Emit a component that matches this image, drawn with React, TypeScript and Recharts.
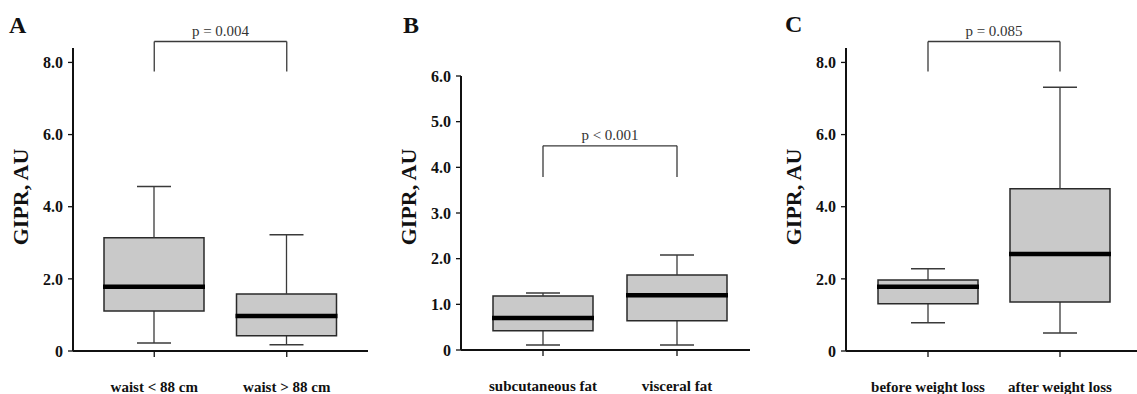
import React from "react";
import { ComposedChart, Bar, XAxis, YAxis, ReferenceLine } from "recharts";

const FONT = '"Liberation Serif", "Times New Roman", serif';

// Panel A: waist circumference
const catsA = ["waist < 88 cm", "waist > 88 cm"];
const minA = [0.22, 0.17];
const q1A = [1.11, 0.42];
const medA = [1.78, 0.97];
const q3A = [3.14, 1.58];
const maxA = [4.56, 3.22];
const ticksA = [0, 2, 4, 6, 8];

// Panel B: fat depot
const catsB = ["subcutaneous fat", "visceral fat"];
const minB = [0.11, 0.11];
const q1B = [0.42, 0.64];
const medB = [0.7, 1.2];
const q3B = [1.18, 1.64];
const maxB = [1.25, 2.08];
const ticksB = [0, 1, 2, 3, 4, 5, 6];

// Panel C: weight loss
const catsC = ["before weight loss", "after weight loss"];
const minC = [0.78, 0.5];
const q1C = [1.31, 1.36];
const medC = [1.78, 2.69];
const q3C = [1.97, 4.5];
const maxC = [2.28, 7.31];
const ticksC = [0, 2, 4, 6, 8];

const pTexts = ["p = 0.004", "p < 0.001", "p = 0.085"];

const toRows = (cats: string[], mins: number[], q1: number[], med: number[], q3: number[], max: number[]) =>
  cats.map((name, i) => ({
    name,
    base: mins[i],
    lowW: q1[i] - mins[i],
    lowBox: med[i] - q1[i],
    highBox: q3[i] - med[i],
    highW: max[i] - q3[i],
  }));

const WHISKER = "#3a3a3a";
const EDGE = "#2a2a2a";
const FILL = "#c9c9c9";

const Empty = () => null;

const LowWhisker = (props: any) => {
  const { x, y, width, height } = props;
  const cx = x + width / 2;
  const cap = width * 0.34;
  return (
    <g>
      <line x1={cx} x2={cx} y1={y} y2={y + height} stroke={WHISKER} strokeWidth={1.3} />
      <line x1={cx - cap / 2} x2={cx + cap / 2} y1={y + height} y2={y + height} stroke={WHISKER} strokeWidth={1.5} />
    </g>
  );
};

const HighWhisker = (props: any) => {
  const { x, y, width, height } = props;
  const cx = x + width / 2;
  const cap = width * 0.34;
  return (
    <g>
      <line x1={cx} x2={cx} y1={y} y2={y + height} stroke={WHISKER} strokeWidth={1.3} />
      <line x1={cx - cap / 2} x2={cx + cap / 2} y1={y} y2={y} stroke={WHISKER} strokeWidth={1.5} />
    </g>
  );
};

const LowBox = (props: any) => {
  const { x, y, width, height } = props;
  return (
    <g>
      <rect x={x} y={y} width={width} height={height} fill={FILL} />
      <path d={`M${x},${y} L${x},${y + height} L${x + width},${y + height} L${x + width},${y}`} fill="none" stroke={EDGE} strokeWidth={1.5} />
    </g>
  );
};

const HighBox = (props: any) => {
  const { x, y, width, height } = props;
  return (
    <g>
      <rect x={x} y={y} width={width} height={height} fill={FILL} />
      <path d={`M${x},${y + height} L${x},${y} L${x + width},${y} L${x + width},${y + height}`} fill="none" stroke={EDGE} strokeWidth={1.5} />
      <line x1={x - 1} x2={x + width + 1} y1={y + height} y2={y + height} stroke="#000" strokeWidth={4.5} />
    </g>
  );
};

// y-axis title, placed left of the axis and centred at a fixed page height
const makeYLabel = (centerY: number) => (props: any) => {
  const vb = props.viewBox || {};
  const x = vb.x + vb.width - 45;
  return (
    <text x={x} y={centerY} transform={`rotate(-90, ${x}, ${centerY})`} textAnchor="middle" fontFamily={FONT} fontWeight="bold" fontSize={22} fill="#111">
      GIPR, AU
    </text>
  );
};

type PanelProps = {
  rows: any[];
  cats: string[];
  ticks: number[];
  domainMax: number;
  pText: string;
  bracketTop: number;
  bracketBottom: number;
  left: number;
  width: number;
  marginLeft: number;
  marginRight: number;
  marginTop: number;
  xHeight: number;
  padLeft: number;
  padRight: number;
};

const Panel = (p: PanelProps) => (
  <div style={{ position: "absolute", left: p.left, top: 0 }}>
    <ComposedChart
      width={p.width}
      height={394}
      data={p.rows}
      margin={{ top: p.marginTop, right: p.marginRight, bottom: 0, left: p.marginLeft }}
    >
      <XAxis
        dataKey="name"
        height={p.xHeight}
        padding={{ left: p.padLeft, right: p.padRight }}
        axisLine={{ stroke: "#111", strokeWidth: 2 }}
        tickLine={{ stroke: "#111", strokeWidth: 1.3 }}
        tickSize={6}
        tickMargin={24}
        interval={0}
        tick={{ fontFamily: FONT, fontWeight: "bold", fontSize: 15, fill: "#111" }}
      />
      <YAxis
        type="number"
        width={30}
        domain={[0, p.domainMax]}
        ticks={p.ticks}
        tickFormatter={(v: number) => (v === 0 ? "0" : v.toFixed(1))}
        axisLine={{ stroke: "#111", strokeWidth: 2 }}
        tickLine={{ stroke: "#111", strokeWidth: 1.3 }}
        tickSize={5}
        tickMargin={5}
        tick={{ fontFamily: FONT, fontWeight: "bold", fontSize: 16, fill: "#111" }}
        label={{ content: makeYLabel(197) }}
      />
      <Bar dataKey="base" stackId="box" barSize={100} shape={Empty} isAnimationActive={false} />
      <Bar dataKey="lowW" stackId="box" barSize={100} shape={LowWhisker} isAnimationActive={false} />
      <Bar dataKey="lowBox" stackId="box" barSize={100} shape={LowBox} isAnimationActive={false} />
      <Bar dataKey="highBox" stackId="box" barSize={100} shape={HighBox} isAnimationActive={false} />
      <Bar dataKey="highW" stackId="box" barSize={100} shape={HighWhisker} isAnimationActive={false} />
      <ReferenceLine
        segment={[{ x: p.cats[0], y: p.bracketTop }, { x: p.cats[1], y: p.bracketTop }]}
        stroke={WHISKER}
        strokeWidth={1.3}
        ifOverflow="visible"
        label={{ value: p.pText, position: "top", offset: 6, fontFamily: FONT, fontSize: 15, fill: "#333" }}
      />
      <ReferenceLine
        segment={[{ x: p.cats[0], y: p.bracketTop }, { x: p.cats[0], y: p.bracketBottom }]}
        stroke={WHISKER}
        strokeWidth={1.3}
        ifOverflow="visible"
      />
      <ReferenceLine
        segment={[{ x: p.cats[1], y: p.bracketTop }, { x: p.cats[1], y: p.bracketBottom }]}
        stroke={WHISKER}
        strokeWidth={1.3}
        ifOverflow="visible"
      />
    </ComposedChart>
  </div>
);

export default function App() {
  return (
    <div style={{ position: "absolute", left: 0, top: 0, width: 1137, height: 394, background: "#fff", overflow: "hidden" }}>
      <Panel
        rows={toRows(catsA, minA, q1A, medA, q3A, maxA)}
        cats={catsA}
        ticks={ticksA}
        domainMax={8.4}
        pText={pTexts[0]}
        bracketTop={8.58}
        bracketBottom={7.75}
        left={0}
        width={375}
        marginLeft={43}
        marginRight={7}
        marginTop={48}
        xHeight={43}
        padLeft={15}
        padRight={15}
      />
      <Panel
        rows={toRows(catsB, minB, q1B, medB, q3B, maxB)}
        cats={catsB}
        ticks={ticksB}
        domainMax={6}
        pText={pTexts[1]}
        bracketTop={4.47}
        bracketBottom={3.79}
        left={380}
        width={375}
        marginLeft={51}
        marginRight={5}
        marginTop={76}
        xHeight={44}
        padLeft={15}
        padRight={6}
      />
      <Panel
        rows={toRows(catsC, minC, q1C, medC, q3C, maxC)}
        cats={catsC}
        ticks={ticksC}
        domainMax={8.4}
        pText={pTexts[2]}
        bracketTop={8.58}
        bracketBottom={7.75}
        left={757}
        width={380}
        marginLeft={59}
        marginRight={0}
        marginTop={48}
        xHeight={43}
        padLeft={16}
        padRight={11}
      />
      <svg width={1137} height={394} style={{ position: "absolute", left: 0, top: 0, pointerEvents: "none" }}>
        <text x={9} y={33} fontFamily={FONT} fontWeight="bold" fontSize={24} fill="#111">A</text>
        <text x={403} y={33} fontFamily={FONT} fontWeight="bold" fontSize={24} fill="#111">B</text>
        <text x={785} y={32} fontFamily={FONT} fontWeight="bold" fontSize={24} fill="#111">C</text>
      </svg>
    </div>
  );
}
